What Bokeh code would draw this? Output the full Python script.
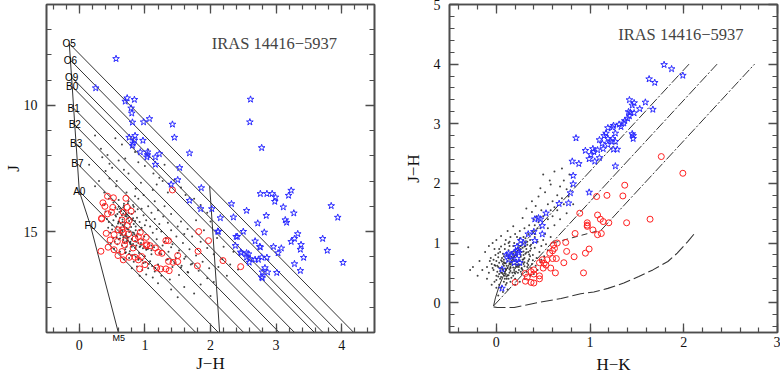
import numpy as np
from bokeh.plotting import figure
from bokeh.layouts import row
from bokeh.models import Range1d, FixedTicker, LinearAxis, Label, ColumnDataSource
from bokeh.core.properties import value
from bokeh.embed import file_html
from bokeh.resources import INLINE

# ---------------- data: left panel (J vs J-H) ----------------
sp_types = ["O5", "O6", "O9", "B0", "B1", "B2", "B3", "B7", "A0", "F0"]
zams_jh = [-0.153, -0.135, -0.118, -0.108, -0.086, -0.069, -0.049, -0.028, 0.0, 0.17]
zams_j = [7.55, 8.21, 8.88, 9.25, 10.11, 10.77, 11.52, 12.31, 13.40, 14.76]
m5_name = "M5"
m5_jh, m5_j = 0.60, 19.05
AJ_PER_EJH = 2.64      # reddening slope A_J / E(J-H)
EJH_MARK = 2.14        # E(J-H) of the reddened ZAMS segment (Av ~ 20)

blue_l_jh = [0.56, 0.25, 0.73, 0.70, 0.84, 0.79, 0.80, 0.81, 0.98, 1.07, 1.42, 1.45, 0.85, 0.76, 0.84, 0.97,
             0.82, 0.81, 0.93, 1.04, 1.04, 1.03, 1.16, 1.22, 1.16, 1.68, 1.53, 1.50, 1.40, 1.86, 2.61, 2.60,
             2.78, 3.23, 2.76, 2.86, 2.94, 2.99, 3.19, 2.98, 3.11, 3.84, 3.94, 3.27, 2.32, 2.55, 2.35, 2.85,
             2.02, 2.15, 2.72, 3.14, 3.16, 2.12, 2.50, 2.82, 3.33, 2.41, 2.68, 3.28, 3.23, 3.71, 3.38, 2.38,
             2.75, 2.96, 3.08, 3.78, 3.37, 2.55, 2.47, 3.03, 2.58, 3.42, 2.86, 2.78, 2.68, 2.73, 2.59, 3.28,
             4.02, 2.83, 2.79, 3.01, 3.37, 2.79, 1.68, 1.85, 2.11, 2.39, 2.46, 2.55, 2.60, 2.76, 2.87, 2.78]
blue_l_j = [8.15, 9.31, 9.71, 9.84, 9.77, 10.11, 10.31, 10.67, 10.66, 10.53, 10.75, 11.27, 11.20, 11.27, 11.39, 11.39,
            11.50, 11.59, 11.85, 11.85, 11.96, 12.05, 12.05, 11.92, 12.34, 11.89, 12.47, 12.95, 13.13, 13.27, 9.76, 10.66,
            11.68, 13.37, 13.50, 13.50, 13.50, 13.64, 13.57, 13.81, 14.03, 13.98, 14.44, 14.27, 13.90, 14.17, 14.43, 14.37,
            14.10, 14.46, 14.67, 14.54, 14.64, 15.00, 15.00, 15.03, 15.09, 15.20, 15.38, 15.28, 15.40, 15.28, 15.52, 15.56,
            15.60, 15.60, 15.66, 15.75, 15.71, 15.85, 15.85, 15.85, 15.89, 16.03, 16.03, 16.02, 16.11, 16.11, 16.22, 16.28,
            16.23, 16.44, 16.61, 16.63, 16.55, 16.84, 13.77, 14.10, 14.99, 15.20, 15.82, 16.02, 16.08, 15.62, 16.61, 16.81]

red_l_jh = [0.43, 0.52, 0.71, 0.36, 0.39, 0.51, 0.73, 0.49, 0.43, 0.67, 0.79, 0.34, 0.65, 0.76, 0.73, 0.59,
            0.65, 0.41, 0.67, 0.75, 0.93, 0.53, 0.90, 1.02, 0.70, 0.47, 0.58, 0.85, 0.94, 1.08, 1.36, 0.69,
            0.82, 0.44, 0.53, 0.33, 0.65, 0.59, 0.76, 0.85, 0.95, 0.67, 0.90, 1.03, 0.92, 1.16, 1.20, 1.26,
            1.00, 1.18, 1.32, 1.37, 1.36, 1.43, 1.50, 1.82, 1.97, 1.81, 2.19, 1.80, 1.50, 1.42, 1.32, 1.24,
            1.02, 2.46, 0.34]
red_l_j = [13.60, 13.66, 13.68, 13.86, 14.00, 14.04, 14.04, 14.23, 14.30, 14.23, 14.19, 14.50, 14.54, 14.56, 14.76, 14.93,
           14.93, 15.07, 15.03, 15.09, 15.03, 15.12, 15.20, 15.23, 15.36, 15.33, 15.39, 15.29, 15.40, 15.56, 15.36, 15.52,
           15.65, 15.62, 15.72, 15.78, 15.79, 15.95, 16.02, 16.02, 15.99, 16.12, 16.12, 15.52, 16.48, 15.65, 15.82, 15.86,
           16.31, 16.44, 16.48, 16.55, 16.18, 16.22, 15.95, 15.00, 15.36, 15.78, 16.15, 16.36, 16.19, 13.35, 15.36, 16.48,
           15.56, 16.39, 14.47]

dots_l_jh = [0.24, 0.55, 0.33, 0.35, 0.43, 0.46, 0.50, 0.60, 0.70, 0.75, 0.46, 0.57, 1.00, 1.13, 1.22, 1.27, 0.94, 0.56,
             0.30, 0.24, 0.86, 1.18, 0.65, 0.85, 0.40, 0.68, 0.90, 1.05, 1.30, 1.45, 1.55, 1.35, 0.15, 0.72, 0.98, 1.12,
             0.38, 1.62, 1.75, 1.85,
             0.45, 0.52, 0.60, 0.68, 0.75, 0.82, 0.90, 0.55, 0.62, 0.70, 0.78, 0.85, 0.95, 1.05, 0.48, 0.58, 0.65, 0.72,
             0.80, 0.88, 0.98, 1.10, 1.20, 0.42, 0.52, 0.60, 0.66, 0.70, 0.76, 0.83, 0.92, 1.02, 1.15, 1.28, 0.50, 0.57,
             0.63, 0.68, 0.73, 0.79, 0.86, 0.95, 1.08, 1.22, 1.35, 0.55, 0.61, 0.66, 0.71, 0.76, 0.81, 0.89, 0.99, 1.12,
             1.25, 1.40, 0.52, 0.60, 0.67, 0.74, 0.80, 0.87, 0.96, 1.06, 1.18, 1.32, 1.48, 0.58, 0.65, 0.72, 0.78, 0.85,
             0.93, 1.03, 1.14, 1.27, 1.42, 1.58, 0.62, 0.70, 0.77, 0.84, 0.91, 1.00, 1.10, 1.22, 1.36, 1.52, 1.68, 0.68,
             0.76, 0.83, 0.90, 0.98, 1.08, 1.20, 1.33, 1.47, 1.62, 1.78, 0.80, 0.88, 0.96, 1.05, 1.15, 1.28, 1.42, 1.56,
             1.72, 1.88, 0.92, 1.02, 1.12, 1.25, 1.38, 1.52, 1.66, 1.82, 1.98, 2.12,
             0.62, 0.69, 0.74, 0.64, 0.72, 0.78, 0.69, 0.83, 0.59, 0.75, 0.67, 0.81, 0.86, 0.70, 0.63, 0.77, 0.73, 0.66,
             0.80, 0.88, 0.56, 0.92, 0.71, 0.79, 0.94, 1.00, 1.10, 1.18, 0.54, 0.47, 0.44, 0.40, 0.38, 0.85, 1.15, 1.30,
             1.40, 1.55, 1.65, 1.72, 1.85, 1.95, 2.05, 2.18, 2.30, 2.42, 2.25, 2.05, 1.85, 1.60, 1.40, 1.20, 1.75, 1.50,
             2.00, 1.95, 2.20, 2.35, 1.60, 1.50, 1.78, 1.90, 2.00, 1.95, 2.10,
             0.58, 0.61, 0.64, 0.67, 0.70, 0.73, 0.76, 0.79, 0.82, 0.85, 0.60, 0.63, 0.66, 0.69, 0.72, 0.75, 0.78, 0.81,
             0.84, 0.87, 0.57, 0.62, 0.67, 0.72, 0.77, 0.82, 0.87, 0.92, 0.97, 1.02, 0.65, 0.70, 0.75, 0.80, 0.85, 0.90,
             0.95, 1.00, 1.05, 1.10, 0.71, 0.76, 0.81, 0.86, 0.91, 0.96, 1.01, 1.06, 1.11, 1.16, 0.50, 0.55, 0.60, 0.45,
             0.48, 0.53, 0.68, 0.74, 0.83, 0.89, 1.25, 1.35, 1.45, 1.55, 1.65, 1.30, 1.40, 1.50, 1.60, 1.70]
dots_l_j = [11.19, 11.30, 11.72, 12.05, 11.96, 12.31, 12.47, 12.18, 12.10, 12.70, 12.90, 13.00, 12.40, 12.70, 12.87, 13.00,
            13.06, 13.20, 13.00, 13.20, 13.30, 13.13, 11.55, 11.85, 12.60, 12.55, 12.25, 11.75, 12.35, 12.95, 13.25, 13.45,
            12.35, 13.45, 13.55, 13.35, 13.45, 13.55, 13.70, 13.95,
            13.70, 13.85, 13.75, 13.90, 13.80, 13.95, 13.70, 14.05, 14.10, 14.15, 14.05, 14.20, 14.10, 14.00, 14.25, 14.30,
            14.35, 14.40, 14.30, 14.45, 14.35, 14.25, 14.15, 14.50, 14.55, 14.60, 14.52, 14.65, 14.58, 14.70, 14.62, 14.55,
            14.50, 14.40, 14.75, 14.80, 14.85, 14.78, 14.90, 14.82, 14.95, 14.85, 14.80, 14.70, 14.65, 15.00, 15.05, 14.98,
            15.10, 15.02, 15.15, 15.08, 15.20, 15.05, 15.00, 14.95, 15.25, 15.30, 15.22, 15.35, 15.28, 15.40, 15.32, 15.45,
            15.30, 15.25, 15.20, 15.50, 15.55, 15.60, 15.50, 15.65, 15.58, 15.70, 15.62, 15.55, 15.50, 15.45, 15.80, 15.85,
            15.78, 15.92, 15.85, 15.98, 15.90, 15.85, 15.80, 15.75, 15.70, 16.10, 16.05, 16.20, 16.12, 16.25, 16.18, 16.30,
            16.12, 16.05, 16.00, 15.95, 16.45, 16.38, 16.52, 16.45, 16.58, 16.50, 16.40, 16.35, 16.28, 16.20, 16.75, 16.70,
            16.82, 16.75, 16.90, 16.72, 16.62, 16.55, 16.45, 16.40,
            14.45, 14.72, 14.48, 14.95, 15.18, 15.40, 15.45, 15.05, 14.68, 14.25, 14.05, 14.55, 14.80, 15.70, 15.15, 14.70,
            15.25, 14.62, 15.60, 15.20, 14.40, 14.95, 14.30, 15.95, 15.45, 14.75, 15.55, 14.90, 15.40, 15.05, 14.85, 14.20,
            13.95, 13.60, 13.80, 14.00, 14.30, 14.60, 14.90, 15.20, 15.40, 15.65, 15.90, 16.10, 16.30, 16.50, 16.75, 17.00,
            17.10, 17.20, 17.30, 17.05, 17.45, 17.60, 17.55, 16.85, 15.60, 15.80, 15.10, 14.80, 14.55, 14.95, 14.60, 14.25,
            15.25,
            14.12, 14.22, 14.18, 14.28, 14.38, 14.33, 14.42, 14.50, 14.47, 14.58, 14.62, 14.68, 14.74, 14.81, 14.86, 14.92,
            14.99, 15.04, 15.11, 15.17, 15.22, 15.27, 15.33, 15.38, 15.44, 15.49, 15.55, 15.61, 15.66, 15.72, 15.10, 15.16,
            15.23, 15.31, 15.37, 15.45, 15.52, 15.60, 15.68, 15.74, 15.82, 15.88, 15.94, 16.00, 16.07, 16.14, 16.22, 16.29,
            16.36, 16.44, 14.92, 14.35, 14.02, 14.62, 15.48, 15.68, 13.98, 13.88, 14.02, 14.12, 15.90, 16.10, 16.25, 16.42,
            16.60, 15.40, 15.62, 15.85, 16.08, 16.30]

# ---------------- data: right panel (J-H vs H-K) ----------------
giant_hk = [-0.03, -0.01, 0.03, 0.08, 0.14, 0.20, 0.25]
giant_jh = [-0.055, 0.08, 0.28, 0.47, 0.65, 0.80, 0.93]
redline_hk0 = [0.25, -0.03, 1.12]
redline_jh0 = [0.93, -0.055, 1.22]
REDLINE_TOP = 4.0
EJH_PER_EHK = 1.70
ctts_hk = [0.60, 1.12]
ctts_jh = [1.00, 1.22]
curve_hk = [-0.03, 0.01, 0.19, 0.44, 0.69, 0.90, 1.04, 1.19, 1.36, 1.52, 1.67, 1.83, 1.93, 2.04, 2.13]
curve_jh = [-0.07, -0.08, -0.08, 0.00, 0.07, 0.15, 0.18, 0.24, 0.33, 0.44, 0.55, 0.69, 0.83, 1.02, 1.19]

blue_r_hk = [1.79, 1.87, 1.99, 1.63, 1.69, 1.42, 1.47, 1.45, 1.59, 1.67, 1.53, 1.41, 1.43, 1.47, 1.42, 1.40,
             1.37, 1.36, 1.31, 1.33, 1.25, 1.24, 1.19, 1.27, 1.17, 1.15, 1.19, 1.24, 1.22, 1.10, 1.13, 1.19,
             1.27, 1.29, 1.25, 1.14, 1.08, 1.03, 1.04, 1.01, 0.95, 0.85, 1.10, 0.99, 1.05, 0.88, 0.81, 1.27,
             1.45, 1.46, 1.46, 0.82, 0.82, 0.99, 0.79, 0.67, 0.77, 0.53, 0.45, 0.41, 0.47, 0.49, 0.34, 0.40,
             0.49, 0.41, 0.26, 0.29, 0.22, 0.23, 0.19, 0.13, 0.11, 0.16, 0.13, 0.22, 0.24, 0.25, 0.19, 0.06, 0.06]
blue_r_jh = [3.99, 3.92, 3.81, 3.75, 3.69, 3.40, 3.35, 3.31, 3.36, 3.24, 3.25, 3.20, 3.19, 3.18, 3.13, 3.09,
             3.05, 3.01, 2.99, 2.95, 2.97, 2.94, 2.93, 2.84, 2.84, 2.80, 2.75, 2.75, 2.71, 2.73, 2.67, 2.65,
             2.70, 2.57, 2.57, 2.58, 2.56, 2.58, 2.53, 2.48, 2.55, 2.76, 2.43, 2.41, 2.37, 2.33, 2.37, 2.29,
             2.83, 2.80, 2.75, 2.13, 1.99, 1.85, 1.84, 1.66, 1.67, 1.50, 1.42, 1.40, 1.40, 1.29, 1.15, 1.19,
             1.15, 1.04, 1.04, 1.00, 0.94, 0.87, 0.84, 0.82, 0.80, 0.78, 0.72, 0.74, 0.84, 0.67, 0.67, 0.56, 0.24]

red_r_hk = [1.37, 1.76, 1.99, 1.07, 1.18, 1.35, 0.89, 1.08, 1.11, 0.97, 0.97, 0.97, 1.20, 1.14, 1.39, 1.64,
            1.03, 1.08, 1.12, 0.84, 0.74, 0.65, 0.61, 0.62, 0.60, 0.57, 0.75, 0.99, 0.95, 0.83, 0.60, 0.64,
            0.54, 0.49, 0.46, 0.51, 0.53, 0.72, 0.58, 0.50, 0.63, 0.40, 0.37, 0.31, 0.40, 0.46, 0.46, 0.33,
            0.31, 0.37, 0.40, 0.20, 0.93]
red_r_jh = [1.97, 2.45, 2.17, 1.78, 1.80, 1.79, 1.50, 1.47, 1.40, 1.34, 1.30, 1.28, 1.34, 1.36, 1.34, 1.40,
            1.22, 1.14, 1.16, 1.16, 1.01, 1.00, 0.97, 0.91, 0.87, 0.83, 0.86, 0.90, 0.83, 0.77, 0.74, 0.74,
            0.72, 0.72, 0.67, 0.66, 0.63, 0.67, 0.58, 0.58, 0.50, 0.55, 0.52, 0.49, 0.48, 0.45, 0.40, 0.43,
            0.36, 0.34, 0.33, 0.34, 0.50]

dots_r_hk = [0.00, 0.05, 0.10, 0.15, 0.20, 0.25, 0.30, 0.02, 0.07, 0.12, 0.17, 0.22, 0.27, 0.32, -0.03, 0.04, 0.09,
             0.14, 0.19, 0.24, 0.29, 0.34, 0.39, -0.05, 0.00, 0.06, 0.11, 0.16, 0.21, 0.26, 0.31, 0.36, 0.41, -0.08,
             -0.02, 0.03, 0.08, 0.13, 0.18, 0.23, 0.28, 0.33, 0.38, 0.43, -0.10, -0.06, -0.01, 0.04, 0.09, 0.14, 0.19,
             0.24, 0.29, 0.34, 0.39, 0.44, 0.01, 0.06, 0.11, 0.16, 0.21, 0.26, 0.31, 0.36, 0.03, 0.08, 0.13, 0.18,
             0.23, 0.28, 0.33, 0.05, 0.10, 0.15, 0.20, 0.25, 0.30, 0.35, 0.12, 0.17, 0.08, 0.22, 0.14, 0.19, 0.09,
             0.24, 0.27, 0.20, 0.15, 0.10, 0.05, 0.32, 0.37, 0.42, 0.47, 0.46, 0.48, 0.50, 0.52, 0.45, 0.50, 0.55,
             0.58, 0.62, 0.60, 0.65, 0.70, 0.68, 0.75, 0.72, 0.78, 0.55, 0.48, 0.40, 0.35, 0.30, 0.25, 0.20, 0.15,
             0.10, -0.15, -0.18, -0.12, -0.20, -0.25, -0.30, -0.28, -0.08, -0.04, 0.00, 0.05, 0.12, 0.18, 0.28, 0.38,
             0.42, 0.52, 0.58, 0.50, 0.45, 0.38, 0.32, 0.62, 0.82, 0.75, 0.68, 0.62, 0.55, 0.58, 0.53, 0.55, 0.51,
             0.48, 0.44, 0.40, 0.36, 0.30, 0.25, 0.20, -0.10, -0.05, 0.00, 0.07, 0.12, 0.02, 0.18, 0.23, 0.13, 0.07,
             0.02, -0.03, 0.27, 0.11, 0.16, 0.21, 0.07, 0.04, 0.19, 0.29, 0.34, 0.26, 0.36, 0.41, 0.44, 0.39, 0.31,
             0.22, 0.14, 0.09, -0.02, 0.60, 0.65, 0.72, 0.77, 0.80, 0.70, 0.57, 0.47, 0.43, 0.47, 0.41,
             0.01, 0.03, 0.05, 0.07, 0.09, 0.11, 0.13, 0.15, 0.17, 0.19, 0.21, 0.23, 0.25, 0.27, 0.29, 0.31, 0.33,
             0.35, 0.37, 0.39, 0.00, 0.04, 0.08, 0.12, 0.16, 0.20, 0.24, 0.28, 0.32, 0.36, -0.04, 0.02, 0.06, 0.10,
             0.14, 0.18, 0.22, 0.26, 0.30, 0.34, 0.05, 0.09, 0.13, 0.17, 0.21, 0.25, 0.29, 0.33, 0.37, 0.41, -0.07,
             -0.02, 0.03, 0.08, 0.13, 0.18, 0.23, 0.28, 0.15, 0.20, 0.10, 0.14, 0.18, 0.22, 0.26, 0.30, 0.06, 0.02,
             -0.01, 0.11]
dots_r_jh = [0.45, 0.50, 0.55, 0.60, 0.65, 0.70, 0.75, 0.60, 0.65, 0.70, 0.75, 0.80, 0.85, 0.90, 0.55, 0.40, 0.45,
             0.50, 0.55, 0.60, 0.65, 0.70, 0.80, 0.65, 0.70, 0.75, 0.80, 0.85, 0.90, 0.95, 1.00, 1.05, 1.10, 0.50,
             0.35, 0.30, 0.35, 0.40, 0.45, 0.50, 0.55, 0.60, 0.65, 0.75, 0.60, 0.75, 0.80, 0.85, 0.90, 0.95, 1.00,
             1.05, 1.10, 1.15, 1.20, 1.25, 0.52, 0.57, 0.62, 0.67, 0.72, 0.77, 0.82, 0.87, 0.67, 0.72, 0.77, 0.82,
             0.87, 0.92, 0.97, 0.43, 0.48, 0.53, 0.58, 0.63, 0.68, 0.73, 0.58, 0.63, 0.62, 0.68, 0.66, 0.70, 0.52,
             0.55, 0.48, 0.40, 0.35, 0.30, 0.25, 0.52, 0.58, 0.62, 0.68, 0.85, 0.95, 1.05, 1.15, 1.35, 1.45, 1.40,
             1.55, 1.60, 1.70, 1.80, 1.75, 1.95, 1.90, 2.05, 2.15, 1.65, 1.55, 1.40, 1.30, 1.25, 1.20, 1.15, 1.10,
             1.05, 0.55, 0.70, 0.85, 0.45, 0.60, 0.93, 0.55, 0.95, 1.00, 1.05, 1.12, 1.20, 1.28, 1.42, 1.52,
             1.62, 1.85, 1.98, 2.15, 1.78, 1.70, 1.58, 2.20, 1.65, 1.50, 1.40, 1.30, 1.25, 1.10, 0.98, 0.88, 0.78,
             0.72, 0.55, 0.48, 0.45, 0.40, 0.35, 0.30, 0.40, 0.30, 0.25, 0.18, 0.22, 0.12, 0.95, 0.98, 0.88, 0.82,
             0.76, 0.72, 0.58, 0.40, 0.42, 0.52, 0.48, 0.58, 0.78, 0.80, 0.85, 0.90, 0.95, 0.92, 1.02, 1.00, 1.08,
             1.10, 1.02, 0.98, 0.90, 1.45, 1.55, 1.65, 1.78, 1.95, 2.25, 2.05, 1.92, 1.45, 1.25, 1.30,
             0.62, 0.48, 0.71, 0.55, 0.66, 0.44, 0.74, 0.58, 0.69, 0.51, 0.79, 0.62, 0.88, 0.57, 0.73, 0.95, 0.66,
             0.81, 0.91, 0.71, 0.38, 0.53, 0.68, 0.46, 0.77, 0.49, 0.64, 0.72, 0.84, 0.78, 0.58, 0.83, 0.50, 0.66,
             0.56, 0.86, 0.60, 0.80, 0.94, 0.63, 0.94, 0.40, 1.00, 0.50, 0.61, 1.08, 0.86, 1.02, 0.97, 1.15, 0.70,
             0.63, 0.90, 0.78, 0.46, 0.72, 0.93, 0.68, 0.64, 0.85, 0.57, 0.74, 0.59, 0.64, 0.52, 0.61, 0.69, 0.44,
             0.62, 0.33]

# ---------------- styling helpers ----------------
SERIF = "Liberation Serif"
SANS = "Liberation Sans"
AXC = "#4d4d4d"


def tick_axis(ticker):
    ax = LinearAxis(ticker=ticker)
    ax.major_tick_in = 9
    ax.major_tick_out = 0
    ax.minor_tick_in = 5
    ax.minor_tick_out = 0
    ax.axis_line_color = AXC
    ax.axis_line_width = 1.6
    ax.major_tick_line_color = AXC
    ax.major_tick_line_width = 1.3
    ax.minor_tick_line_color = AXC
    ax.minor_tick_line_width = 1.2
    ax.major_label_text_font_size = "1px"
    ax.major_label_text_color = None
    ax.major_label_standoff = 0
    return ax


def bare_axis(ticker):
    ax = LinearAxis(ticker=ticker)
    ax.axis_line_color = None
    ax.major_tick_line_color = None
    ax.minor_tick_line_color = None
    ax.major_tick_in = 0
    ax.major_tick_out = 0
    ax.minor_tick_in = 0
    ax.minor_tick_out = 0
    return ax


def build_axes(p, xmaj, xmin, ymaj, ymin, xlabel, ylabel, ylab_standoff, xnum_standoff, xlab_standoff, m5=None):
    xt = FixedTicker(ticks=xmaj, minor_ticks=xmin)
    yt = FixedTicker(ticks=ymaj, minor_ticks=ymin)
    # bottom: ticks only, then (optionally) the M5 marker label, then numbers + title
    p.add_layout(tick_axis(xt), "below")
    if m5 is not None:
        m5ax = bare_axis(FixedTicker(ticks=[m5[0]]))
        m5ax.major_label_overrides = {m5[0]: m5[1]}
        m5ax.major_label_text_font = SANS
        m5ax.major_label_text_font_size = "9px"
        m5ax.major_label_text_color = "#000000"
        m5ax.major_label_standoff = 0
        p.add_layout(m5ax, "below")
    xl = bare_axis(FixedTicker(ticks=xmaj))
    xl.major_label_text_font = SERIF
    xl.major_label_text_font_size = "14px"
    xl.major_label_text_color = "#111111"
    xl.major_label_standoff = xnum_standoff
    xl.axis_label = xlabel
    xl.axis_label_text_font = SERIF
    xl.axis_label_text_font_style = "normal"
    xl.axis_label_text_font_size = "17px"
    xl.axis_label_text_color = "#111111"
    xl.axis_label_standoff = xlab_standoff
    p.add_layout(xl, "below")
    # left axis: ticks + numbers + title
    yl = tick_axis(yt)
    yl.major_label_text_font = SERIF
    yl.major_label_text_font_size = "14px"
    yl.major_label_text_color = "#111111"
    yl.major_label_standoff = 9
    yl.axis_label = ylabel
    yl.axis_label_text_font = SERIF
    yl.axis_label_text_font_style = "normal"
    yl.axis_label_text_font_size = "17px"
    yl.axis_label_text_color = "#111111"
    yl.axis_label_standoff = ylab_standoff
    p.add_layout(yl, "left")
    # mirrored ticks on top and right
    p.add_layout(tick_axis(xt), "above")
    p.add_layout(tick_axis(yt), "right")
    p.outline_line_color = AXC
    p.outline_line_width = 1.6
    p.background_fill_color = "white"
    p.border_fill_color = "white"


# ---------------- left panel ----------------
p1 = figure(frame_width=328, frame_height=328, output_backend="svg", toolbar_location=None,
            x_range=Range1d(-0.5, 4.5), y_range=Range1d(19, 6),
            x_axis_location=None, y_axis_location=None,
            min_border_left=41, min_border_right=10, min_border_top=8, min_border_bottom=38)
p1.grid.visible = False
build_axes(p1, [0, 1, 2, 3, 4], list(np.round(np.arange(-0.4, 4.5, 0.2), 2)),
           [10, 15], list(range(6, 20)), "J\u2212H", "J", -2, -6, 1, m5=(m5_jh, m5_name))

# ZAMS
p1.line(zams_jh + [m5_jh], zams_j + [m5_j], line_color="#333333", line_width=1)
# reddening vectors
J_END = 19.5
vx0, vx1, vy0, vy1 = [], [], [], []
for x0, j0 in zip(zams_jh, zams_j):
    vx0.append(x0)
    vy0.append(j0)
    vx1.append(x0 + (J_END - j0) / AJ_PER_EJH)
    vy1.append(J_END)
p1.segment(vx0, vy0, vx1, vy1, line_color="#333333", line_width=1)
# reddened ZAMS (O5..A0)
p1.line([x + EJH_MARK for x in zams_jh[:9]], [j + AJ_PER_EJH * EJH_MARK for j in zams_j[:9]],
        line_color="#333333", line_width=1)

p1.scatter(dots_l_jh, dots_l_j, marker="circle", size=2, line_color=None, fill_color="#222222", fill_alpha=0.85)
p1.scatter(red_l_jh, red_l_j, marker="circle", size=6, line_color="#ff2020", fill_color=None, line_width=1)
p1.scatter(blue_l_jh, blue_l_j, marker="star", size=7, line_color="#2a2aff", fill_color=None, line_width=1)

src_sp = ColumnDataSource(dict(x=zams_jh, y=zams_j, t=sp_types))
p1.text("x", "y", text="t", source=src_sp, text_font=value(SANS), text_font_size="10px",
        text_align="center", text_baseline="middle", text_color="#000000")
p1.add_layout(Label(x=2.02, y=7.54, text="IRAS 14416\u22125937", text_font=SERIF, text_font_size="16.5px",
                    text_baseline="alphabetic", text_align="left"))

# ---------------- right panel ----------------
p2 = figure(frame_width=328, frame_height=328, output_backend="svg", toolbar_location=None,
            x_range=Range1d(-0.5, 3.0), y_range=Range1d(-0.5, 5.0),
            x_axis_location=None, y_axis_location=None,
            min_border_left=65, min_border_right=3, min_border_top=8, min_border_bottom=38)
p2.grid.visible = False
build_axes(p2, [0, 1, 2, 3], list(np.round(np.arange(-0.4, 3.0, 0.2), 2)),
           [0, 1, 2, 3, 4, 5], list(np.round(np.arange(-0.4, 5.0, 0.2), 2)),
           "H\u2212K", "J\u2212H", 8, 4, 5)

p2.scatter(dots_r_hk, dots_r_jh, marker="circle", size=2, line_color=None, fill_color="#222222", fill_alpha=0.85)

p2.line(giant_hk, giant_jh, line_color="#333333", line_width=1)
rx1 = [h + (REDLINE_TOP - j) / EJH_PER_EHK for h, j in zip(redline_hk0, redline_jh0)]
ry1 = [REDLINE_TOP] * len(redline_hk0)
p2.segment(redline_hk0, redline_jh0, rx1, ry1, line_color="#333333", line_width=1, line_dash="10 2 2 2")
p2.line(ctts_hk, ctts_jh, line_color="#333333", line_width=1, line_dash="6 4")
p2.line(curve_hk, curve_jh, line_color="#333333", line_width=1.1, line_dash="12 4")

p2.scatter(red_r_hk, red_r_jh, marker="circle", size=6, line_color="#ff2020", fill_color=None, line_width=1)
p2.scatter(blue_r_hk, blue_r_jh, marker="star", size=7, line_color="#2a2aff", fill_color=None, line_width=1)

p2.add_layout(Label(x=1.30, y=4.49, text="IRAS 14416\u22125937", text_font=SERIF, text_font_size="16.5px",
                    text_baseline="alphabetic", text_align="left"))

lay = row(p1, p2, styles={"margin-top": "-4px", "margin-bottom": "-20px"})
open("out.html", "w").write(file_html(lay, INLINE))
